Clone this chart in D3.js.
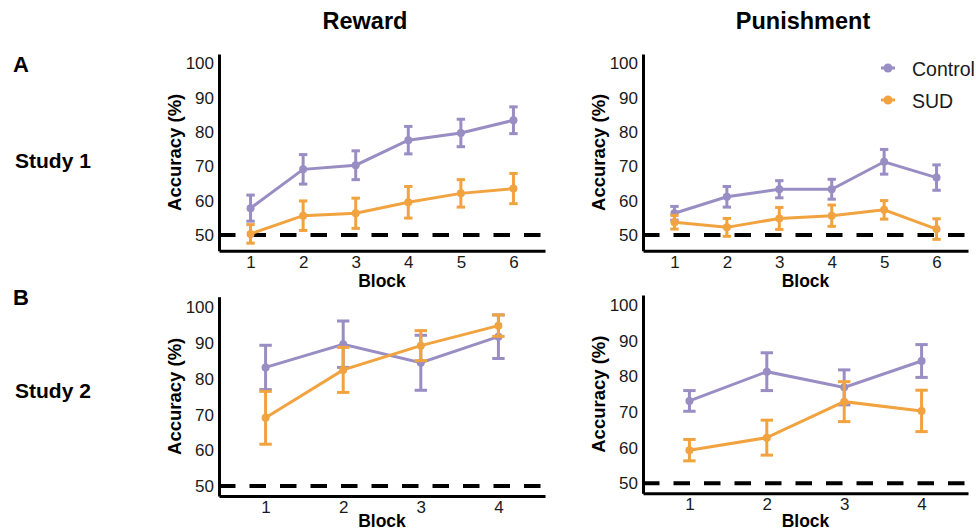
<!DOCTYPE html>
<html>
<head>
<meta charset="utf-8">
<script src="https://cdn.jsdelivr.net/npm/d3@7"></script>
<style>
  body { margin: 0; background: #fff; }
  svg { font-family: "Liberation Sans", Arial, sans-serif; }
</style>
</head>
<body>
<div id="chart"></div>
<script>
const blocksStudy1 = [1, 2, 3, 4, 5, 6];
const blocksStudy2 = [1, 2, 3, 4];
const yTicks = [50, 60, 70, 80, 90, 100];
const groups = ['Control', 'SUD'];
const chance = 50;

// Study 1 (means and error half-widths, %)
const s1RewardControl = [57.8, 69.1, 70.3, 77.6, 79.7, 83.4];
const s1RewardControlErr = [3.8, 4.3, 4.2, 4.0, 4.0, 3.9];
const s1RewardSud = [50.3, 55.6, 56.3, 59.5, 62.1, 63.5];
const s1RewardSudErr = [2.7, 4.3, 4.4, 4.6, 4.0, 4.4];
const s1PunishControl = [56.3, 61.1, 63.3, 63.3, 71.3, 66.7];
const s1PunishControlErr = [2.0, 3.0, 2.5, 2.9, 3.6, 3.7];
const s1PunishSud = [53.7, 52.2, 54.8, 55.6, 57.3, 51.7];
const s1PunishSudErr = [2.0, 2.6, 3.2, 3.1, 2.7, 3.0];

// Study 2
const s2RewardControl = [83.2, 89.7, 84.5, 91.8];
const s2RewardControlErr = [6.2, 6.5, 7.7, 6.1];
const s2RewardSud = [69.1, 82.5, 89.3, 94.9];
const s2RewardSudErr = [7.4, 6.3, 4.2, 3.0];
const s2PunishControl = [73.1, 81.3, 76.9, 84.3];
const s2PunishControlErr = [2.9, 5.3, 4.9, 4.6];
const s2PunishSud = [59.3, 62.8, 72.9, 70.3];
const s2PunishSudErr = [3.0, 4.9, 5.6, 5.8];

const colors = {Control: '#998ec3', SUD: '#f1a340'};
const width = 976, height = 531;

const svg = d3.select('#chart').append('svg')
  .attr('width', width)
  .attr('height', height);

const toSeries = (blocks, means, errs) =>
  blocks.map((b, i) => ({block: b, mean: means[i], err: errs[i]}));

function drawPanel({left, right, top, bottom, domain, blocks, series, labelY}) {
  const x = d3.scaleLinear()
    .domain([0.4, blocks.length + 0.6])
    .range([left, right]);
  const y = d3.scaleLinear()
    .domain(domain)
    .range([bottom, top]);

  const g = svg.append('g');

  // chance line
  g.append('line')
    .attr('x1', left).attr('x2', right)
    .attr('y1', y(chance)).attr('y2', y(chance))
    .attr('stroke', '#000')
    .attr('stroke-width', 4)
    .attr('stroke-dasharray', '16.5,14');

  const yAxis = g.append('g')
    .attr('transform', `translate(${left},0)`)
    .call(d3.axisLeft(y).tickValues(yTicks).tickSizeInner(0).tickSizeOuter(0).tickPadding(5));
  const xAxis = g.append('g')
    .attr('transform', `translate(0,${bottom})`)
    .call(d3.axisBottom(x).tickValues(blocks).tickFormat(d3.format('d')).tickSizeInner(0).tickSizeOuter(0).tickPadding(5));
  [yAxis, xAxis].forEach(a => {
    a.select('.domain').attr('stroke', '#000').attr('stroke-width', 3);
    a.selectAll('text').attr('font-size', 17).attr('fill', '#1a1a1a');
  });

  g.append('text')
    .attr('x', (left + right) / 2)
    .attr('y', labelY)
    .attr('text-anchor', 'middle')
    .attr('font-size', 17.5)
    .attr('font-weight', 'bold')
    .text('Block');

  g.append('text')
    .attr('transform', `translate(${left - 38},${(top + bottom) / 2}) rotate(-90)`)
    .attr('text-anchor', 'middle')
    .attr('font-size', 18.5)
    .attr('font-weight', 'bold')
    .text('Accuracy (%)');

  const capHalf = (x(2) - x(1)) * 0.08;
  groups.forEach(name => {
    const data = series[name];
    const c = colors[name];
    const sg = g.append('g');
    sg.append('path')
      .datum(data)
      .attr('fill', 'none')
      .attr('stroke', c)
      .attr('stroke-width', 3)
      .attr('d', d3.line().x(d => x(d.block)).y(d => y(d.mean)));
    const eb = sg.selectAll('.eb').data(data).join('g')
      .attr('stroke', c).attr('stroke-width', 3);
    eb.append('line')
      .attr('x1', d => x(d.block)).attr('x2', d => x(d.block))
      .attr('y1', d => y(d.mean - d.err)).attr('y2', d => y(d.mean + d.err));
    eb.append('line')
      .attr('x1', d => x(d.block) - capHalf).attr('x2', d => x(d.block) + capHalf)
      .attr('y1', d => y(d.mean + d.err)).attr('y2', d => y(d.mean + d.err));
    eb.append('line')
      .attr('x1', d => x(d.block) - capHalf).attr('x2', d => x(d.block) + capHalf)
      .attr('y1', d => y(d.mean - d.err)).attr('y2', d => y(d.mean - d.err));
    sg.selectAll('circle').data(data).join('circle')
      .attr('cx', d => x(d.block))
      .attr('cy', d => y(d.mean))
      .attr('r', 4)
      .attr('fill', c);
  });
}

drawPanel({
  left: 219, right: 545, top: 54, bottom: 250.7, domain: [45.4, 102.7], labelY: 286.7,
  blocks: blocksStudy1,
  series: {
    Control: toSeries(blocksStudy1, s1RewardControl, s1RewardControlErr),
    SUD: toSeries(blocksStudy1, s1RewardSud, s1RewardSudErr)
  }
});
drawPanel({
  left: 643, right: 968, top: 54, bottom: 250.7, domain: [45.4, 102.7], labelY: 286.7,
  blocks: blocksStudy1,
  series: {
    Control: toSeries(blocksStudy1, s1PunishControl, s1PunishControlErr),
    SUD: toSeries(blocksStudy1, s1PunishSud, s1PunishSudErr)
  }
});
drawPanel({
  left: 219, right: 545, top: 296.7, bottom: 496, domain: [47.2, 103], labelY: 526.5,
  blocks: blocksStudy2,
  series: {
    Control: toSeries(blocksStudy2, s2RewardControl, s2RewardControlErr),
    SUD: toSeries(blocksStudy2, s2RewardSud, s2RewardSudErr)
  }
});
drawPanel({
  left: 643, right: 968, top: 295, bottom: 493.3, domain: [47.2, 102.8], labelY: 526.5,
  blocks: blocksStudy2,
  series: {
    Control: toSeries(blocksStudy2, s2PunishControl, s2PunishControlErr),
    SUD: toSeries(blocksStudy2, s2PunishSud, s2PunishSudErr)
  }
});

// column titles
[['Reward', 365], ['Punishment', 803]].forEach(([t, cx]) => {
  svg.append('text')
    .attr('x', cx).attr('y', 29)
    .attr('text-anchor', 'middle')
    .attr('font-size', 23.5)
    .attr('font-weight', 'bold')
    .text(t);
});

// row labels
[['A', 13, 72, 22], ['Study 1', 15, 168, 21], ['B', 13, 305, 22], ['Study 2', 15, 398, 21]]
  .forEach(([t, lx, ly, fs]) => {
    svg.append('text')
      .attr('x', lx).attr('y', ly)
      .attr('font-size', fs)
      .attr('font-weight', 'bold')
      .text(t);
  });

// legend
const legend = svg.append('g').attr('transform', 'translate(881,68)');
groups.forEach((name, i) => {
  const row = legend.append('g').attr('transform', `translate(0,${i * 32})`);
  row.append('line')
    .attr('x1', 0).attr('x2', 14)
    .attr('stroke', colors[name]).attr('stroke-width', 3);
  row.append('circle')
    .attr('cx', 7).attr('r', 4.5)
    .attr('fill', colors[name]);
  row.append('text')
    .attr('x', 31).attr('y', 8)
    .attr('font-size', 19.5)
    .attr('fill', '#1a1a1a')
    .text(name);
});
</script>
</body>
</html>
